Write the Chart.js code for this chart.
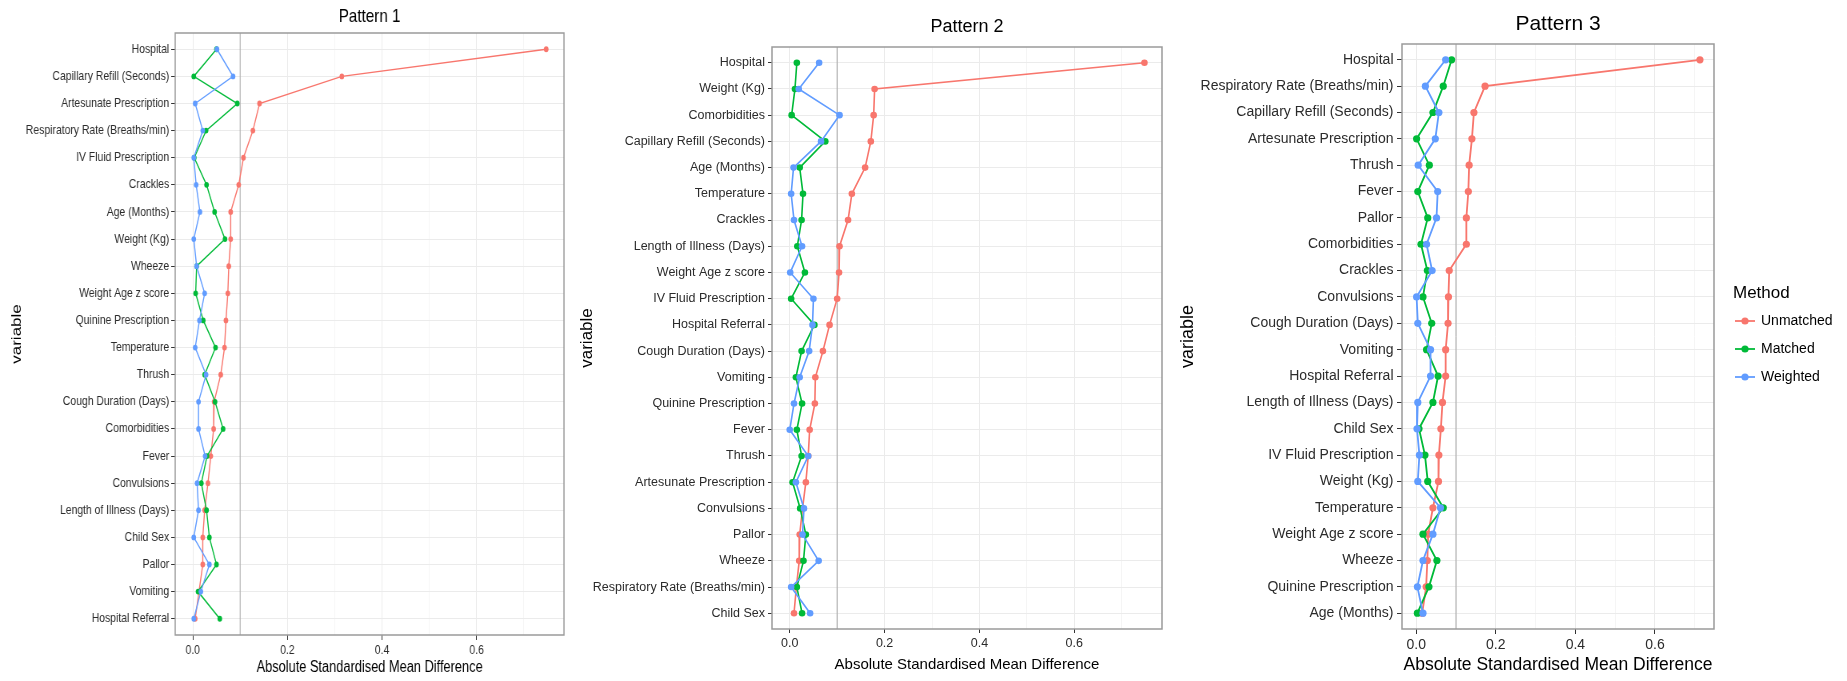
<!DOCTYPE html>
<html>
<head>
<meta charset="utf-8">
<title>Absolute standardised mean difference by pattern</title>
<script src="https://cdn.jsdelivr.net/npm/chart.js@4.4.1/dist/chart.umd.min.js"></script>
<style>
  html, body { margin: 0; padding: 0; background: #fff; }
  #wrap { position: relative; width: 1847px; height: 681px; overflow: hidden; }
  canvas { position: absolute; top: 0; }
  /* the first panel in the source figure is horizontally squeezed */
  #p1 { transform: scaleX(0.8); transform-origin: 0 0; }
</style>
</head>
<body>
<div id="wrap">
  <canvas id="p1" width="713" height="681" style="left:0"></canvas>
  <canvas id="p2" width="600" height="681" style="left:570px"></canvas>
  <canvas id="p3" width="677" height="681" style="left:1170px"></canvas>
</div>
<script>
// --- data ---
const methods = ['Unmatched', 'Matched', 'Weighted'];
const methodColors = ['#F8766D', '#00BA38', '#619CFF'];
const threshold = 0.1;
const xBreaks = [0, 0.1, 0.2, 0.3, 0.4, 0.5, 0.6, 0.7];
const xLabels = ['0.0', '', '0.2', '', '0.4', '', '0.6', ''];
const xTitle = 'Absolute Standardised Mean Difference';
const yTitle = 'variable';

// Pattern 1
const p1Vars = ['Hospital', 'Capillary Refill (Seconds)', 'Artesunate Prescription', 'Respiratory Rate (Breaths/min)',
  'IV Fluid Prescription', 'Crackles', 'Age (Months)', 'Weight (Kg)', 'Wheeze', 'Weight Age z score',
  'Quinine Prescription', 'Temperature', 'Thrush', 'Cough Duration (Days)', 'Comorbidities', 'Fever',
  'Convulsions', 'Length of Illness (Days)', 'Child Sex', 'Pallor', 'Vomiting', 'Hospital Referral'];
const p1Unmatched = [0.747, 0.315, 0.141, 0.127, 0.107, 0.097, 0.080, 0.080, 0.076, 0.074, 0.070,
  0.067, 0.059, 0.045, 0.044, 0.038, 0.032, 0.025, 0.021, 0.021, 0.013, 0.005];
const p1Matched = [0.050, 0.002, 0.094, 0.028, 0.003, 0.029, 0.046, 0.068, 0.008, 0.006, 0.022,
  0.048, 0.025, 0.047, 0.064, 0.030, 0.018, 0.029, 0.035, 0.050, 0.011, 0.057];
const p1Weighted = [0.051, 0.085, 0.005, 0.021, 0.002, 0.007, 0.015, 0.002, 0.008, 0.025, 0.014,
  0.005, 0.028, 0.012, 0.012, 0.026, 0.009, 0.012, 0.002, 0.035, 0.017, 0.002];

// Pattern 2
const p2Vars = ['Hospital', 'Weight (Kg)', 'Comorbidities', 'Capillary Refill (Seconds)', 'Age (Months)',
  'Temperature', 'Crackles', 'Length of Illness (Days)', 'Weight Age z score', 'IV Fluid Prescription',
  'Hospital Referral', 'Cough Duration (Days)', 'Vomiting', 'Quinine Prescription', 'Fever', 'Thrush',
  'Artesunate Prescription', 'Convulsions', 'Pallor', 'Wheeze', 'Respiratory Rate (Breaths/min)', 'Child Sex'];
const p2Unmatched = [0.748, 0.179, 0.177, 0.171, 0.159, 0.131, 0.123, 0.105, 0.104, 0.100, 0.084,
  0.070, 0.054, 0.053, 0.042, 0.039, 0.034, 0.027, 0.021, 0.020, 0.014, 0.009];
const p2Matched = [0.015, 0.011, 0.004, 0.075, 0.021, 0.028, 0.025, 0.016, 0.032, 0.003, 0.052,
  0.025, 0.013, 0.026, 0.015, 0.025, 0.006, 0.022, 0.034, 0.029, 0.015, 0.026];
const p2Weighted = [0.062, 0.019, 0.105, 0.066, 0.008, 0.003, 0.009, 0.026, 0.001, 0.050, 0.048,
  0.041, 0.021, 0.009, 0.000, 0.039, 0.013, 0.030, 0.027, 0.061, 0.003, 0.043];

// Pattern 3
const p3Vars = ['Hospital', 'Respiratory Rate (Breaths/min)', 'Capillary Refill (Seconds)', 'Artesunate Prescription',
  'Thrush', 'Fever', 'Pallor', 'Comorbidities', 'Crackles', 'Convulsions', 'Cough Duration (Days)', 'Vomiting',
  'Hospital Referral', 'Length of Illness (Days)', 'Child Sex', 'IV Fluid Prescription', 'Weight (Kg)',
  'Temperature', 'Weight Age z score', 'Wheeze', 'Quinine Prescription', 'Age (Months)'];
const p3Unmatched = [0.713, 0.173, 0.145, 0.140, 0.133, 0.131, 0.126, 0.126, 0.083, 0.081, 0.080,
  0.074, 0.074, 0.066, 0.062, 0.057, 0.056, 0.042, 0.030, 0.028, 0.025, 0.015];
const p3Matched = [0.089, 0.068, 0.042, 0.001, 0.033, 0.004, 0.029, 0.012, 0.028, 0.017, 0.039,
  0.026, 0.055, 0.042, 0.007, 0.022, 0.029, 0.068, 0.017, 0.052, 0.032, 0.003];
const p3Weighted = [0.074, 0.023, 0.057, 0.048, 0.005, 0.054, 0.051, 0.026, 0.040, 0.001, 0.004,
  0.036, 0.036, 0.004, 0.002, 0.008, 0.004, 0.061, 0.042, 0.017, 0.003, 0.017];

const FONT = "'Liberation Sans', Arial, Helvetica, sans-serif";
const H = 681;

// threshold line, panel border and panel title
const panelDecor = {
  id: 'panelDecor',
  beforeDatasetsDraw(chart, args, o) {
    const { ctx, chartArea: a } = chart;
    const px = chart.scales.x.getPixelForValue(o.threshold);
    ctx.save();
    ctx.strokeStyle = '#a9a9a9';
    ctx.lineWidth = 1;
    ctx.beginPath();
    ctx.moveTo(px, a.top);
    ctx.lineTo(px, a.bottom);
    ctx.stroke();
    ctx.restore();
  },
  afterDatasetsDraw(chart, args, o) {
    const { ctx, chartArea: a } = chart;
    ctx.save();
    ctx.strokeStyle = '#9a9a9a';
    ctx.lineWidth = 1.5;
    ctx.strokeRect(a.left, a.top, a.right - a.left, a.bottom - a.top);
    ctx.fillStyle = '#000';
    ctx.font = o.titleSize + 'px ' + FONT;
    ctx.textAlign = 'center';
    ctx.textBaseline = 'middle';
    ctx.fillText(o.title, (a.left + a.right) / 2, o.titleY);
    ctx.restore();
  }
};

// ggplot style legend: line with a dot
const methodLegend = {
  id: 'methodLegend',
  afterDraw(chart, args, o) {
    const ctx = chart.ctx;
    ctx.save();
    ctx.textBaseline = 'middle';
    ctx.textAlign = 'left';
    ctx.fillStyle = '#000';
    ctx.font = o.titleSize + 'px ' + FONT;
    ctx.fillText(o.title, o.x, o.y);
    ctx.font = o.labelSize + 'px ' + FONT;
    chart.data.datasets.forEach((ds, i) => {
      const cy = o.y + o.step * (i + 1);
      ctx.strokeStyle = ds.borderColor;
      ctx.lineWidth = ds.borderWidth;
      ctx.beginPath();
      ctx.moveTo(o.x + 2, cy);
      ctx.lineTo(o.x + 22, cy);
      ctx.stroke();
      ctx.fillStyle = ds.backgroundColor;
      ctx.beginPath();
      ctx.arc(o.x + 12, cy, ds.pointRadius, 0, Math.PI * 2);
      ctx.fill();
      ctx.fillStyle = '#000';
      ctx.fillText(ds.label, o.x + 28, cy);
    });
    ctx.restore();
  }
};

function panel(id, cfg) {
  const tickFont = { family: FONT, size: cfg.tickSize };
  return new Chart(document.getElementById(id), {
    type: 'line',
    data: {
      datasets: methods.map((m, k) => ({
        label: m,
        data: cfg.values[k].map((v, i) => ({ x: v, y: i })),
        borderColor: methodColors[k],
        backgroundColor: methodColors[k],
        borderWidth: cfg.lineWidth,
        pointRadius: cfg.pointRadius,
        pointHoverRadius: cfg.pointRadius,
        pointBorderWidth: 0,
        tension: 0,
        order: methods.length - k   // Weighted drawn on top
      }))
    },
    options: {
      indexAxis: 'y',
      responsive: false,
      animation: false,
      devicePixelRatio: 1,
      events: [],
      layout: { padding: { top: cfg.top, right: cfg.right, bottom: 0, left: 0 } },
      plugins: {
        legend: { display: false },
        tooltip: { enabled: false },
        panelDecor: { threshold: threshold, title: cfg.title, titleSize: cfg.titleSize, titleY: cfg.titleY },
        methodLegend: cfg.legend || {}
      },
      scales: {
        x: {
          type: 'linear',
          min: cfg.xMin,
          max: cfg.xMax,
          afterBuildTicks: s => { s.ticks = xBreaks.map(v => ({ value: v })); },
          afterFit: s => { s.height = H - cfg.bottom; },
          ticks: {
            autoSkip: false, maxRotation: 0, padding: cfg.xTickPad,
            font: tickFont, color: '#2b2b2b',
            callback: (v, i) => xLabels[i]
          },
          grid: {
            color: c => xLabels[c.index] ? '#ebebeb' : '#f5f5f5',
            tickColor: c => xLabels[c.index] ? '#333' : 'rgba(0,0,0,0)',
            tickLength: cfg.tickLen
          },
          border: { display: false },
          title: {
            display: true, text: xTitle, color: '#000',
            font: { family: FONT, size: cfg.xTitleSize },
            padding: { top: 0, bottom: cfg.xTitlePad }
          }
        },
        y: {
          type: 'linear',
          reverse: true,
          min: -0.6,
          max: cfg.vars.length - 0.4,
          afterBuildTicks: s => { s.ticks = cfg.vars.map((v, i) => ({ value: i })); },
          afterFit: s => { s.width = cfg.left; },
          ticks: {
            autoSkip: false, padding: cfg.yTickPad,
            font: tickFont, color: '#2b2b2b',
            callback: (v, i) => cfg.vars[i]
          },
          grid: { color: '#ebebeb', tickColor: '#333', tickLength: cfg.tickLen },
          border: { display: false },
          title: {
            display: true, text: yTitle, color: '#000',
            font: { family: FONT, size: cfg.yTitleSize },
            padding: { top: cfg.yTitlePad, bottom: 0 }
          }
        }
      }
    },
    plugins: cfg.legend ? [panelDecor, methodLegend] : [panelDecor]
  });
}

// panel 1 is laid out on a wider canvas that CSS squeezes to 80 %
panel('p1', {
  vars: p1Vars, values: [p1Unmatched, p1Matched, p1Weighted],
  title: 'Pattern 1', titleSize: 19, titleY: 17,
  top: 33, bottom: 635, left: 219, right: 8, xMin: -0.0373, xMax: 0.7846,
  tickSize: 13, tickLen: 5, yTickPad: 2.5, xTickPad: 3,
  xTitleSize: 16, xTitlePad: 3.4, yTitleSize: 17, yTitlePad: 11,
  lineWidth: 1.4, pointRadius: 2.9
});

panel('p2', {
  vars: p2Vars, values: [p2Unmatched, p2Matched, p2Weighted],
  title: 'Pattern 2', titleSize: 18, titleY: 27.5,
  top: 47, bottom: 629, left: 202, right: 8, xMin: -0.0374, xMax: 0.785,
  tickSize: 12.5, tickLen: 4, yTickPad: 3, xTickPad: 3.5,
  xTitleSize: 15, xTitlePad: 7, yTitleSize: 17, yTitlePad: 7,
  lineWidth: 1.6, pointRadius: 3.3
});

panel('p3', {
  vars: p3Vars, values: [p3Unmatched, p3Matched, p3Weighted],
  title: 'Pattern 3', titleSize: 21, titleY: 24.5,
  top: 44, bottom: 629, left: 232, right: 133, xMin: -0.0357, xMax: 0.7483,
  tickSize: 14, tickLen: 5, yTickPad: 3.5, xTickPad: 3,
  xTitleSize: 17.5, xTitlePad: 5.5, yTitleSize: 18, yTitlePad: 7,
  lineWidth: 1.8, pointRadius: 3.6,
  legend: { title: 'Method', titleSize: 17, labelSize: 14, x: 563, y: 293, step: 28 }
});
</script>
</body>
</html>
